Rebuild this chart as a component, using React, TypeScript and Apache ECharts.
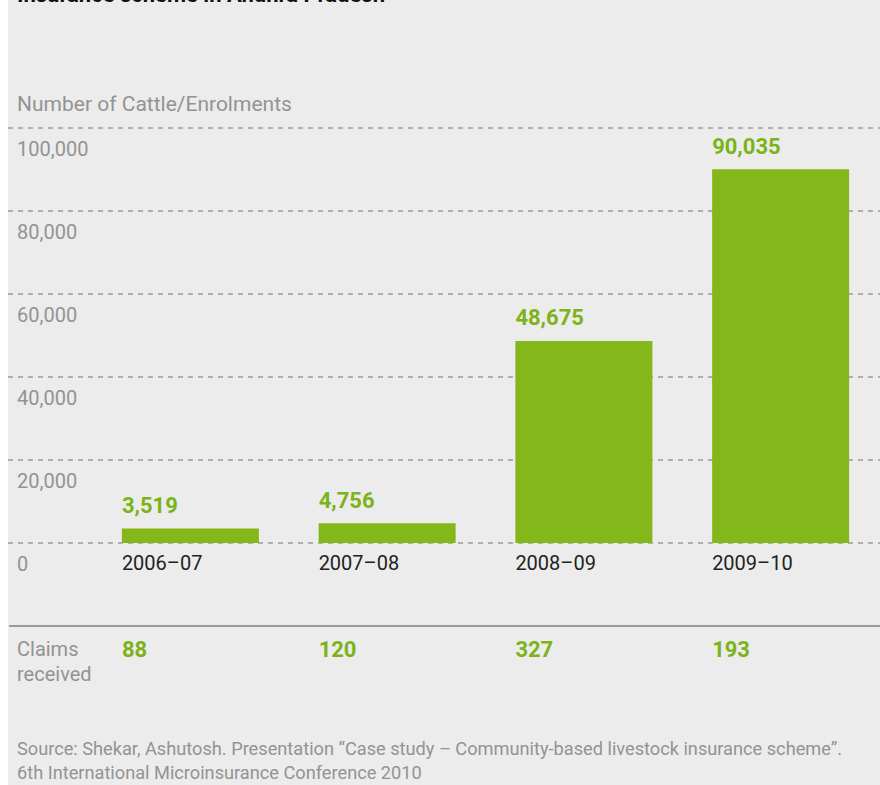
import React, { useEffect, useRef } from "react";
import * as echarts from "echarts";

const categories = ["2006–07", "2007–08", "2008–09", "2009–10"];
const enrolments = [3519, 4756, 48675, 90035];
const claims = [88, 120, 327, 193];
const yTicks = [0, 20000, 40000, 60000, 80000, 100000];

const FONT = "Roboto";
const GREEN = "#84b71a";
const LABEL_GREEN = "#7cb319";
const GREY = "#939393";

export default function App() {
  const ref = useRef<HTMLDivElement>(null);
  useEffect(() => {
    if (!ref.current) return;
    const chart = echarts.init(ref.current, null, { renderer: "svg" });
    const yMax = yTicks[yTicks.length - 1];
    const interval = yTicks[1] - yTicks[0];
    chart.setOption({
      animation: false,
      backgroundColor: "#ececec",
      textStyle: { fontFamily: FONT },
      grid: [
        { left: 0, right: 0, top: 128, height: 415 },
        { left: 84, right: 1, top: 128, height: 415 },
      ],
      xAxis: [
        { gridIndex: 0, type: "category", data: [""], show: false },
        {
          gridIndex: 1,
          type: "category",
          data: categories,
          axisLine: { show: false },
          axisTick: { show: false },
          axisLabel: {
            margin: 10,
            align: "center",
            formatter: (v: string) => `{t|${v}}`,
            rich: {
              t: {
                width: 137,
                align: "left",
                fontSize: 20,
                color: "#222222",
                fontFamily: FONT,
              },
            },
          },
        },
        {
          gridIndex: 1,
          type: "category",
          data: categories,
          position: "bottom",
          offset: 87,
          axisLine: { show: false },
          axisTick: { show: false },
          axisLabel: {
            margin: 8,
            align: "center",
            formatter: (_v: string, i: number) => `{t|${claims[i]}}`,
            rich: {
              t: {
                width: 137,
                align: "left",
                fontSize: 22,
                fontWeight: "bold",
                color: LABEL_GREEN,
                fontFamily: FONT,
              },
            },
          },
        },
      ],
      yAxis: [
        {
          gridIndex: 0,
          type: "value",
          min: 0,
          max: yMax,
          interval,
          axisLine: { show: false },
          axisTick: { show: false },
          splitLine: {
            show: true,
            lineStyle: { color: "#9a9a9a", width: 1.5, type: [5, 5] },
          },
          axisLabel: {
            inside: true,
            margin: 9,
            verticalAlign: "top",
            padding: [11, 0, 0, 0],
            fontSize: 20,
            color: GREY,
            fontFamily: FONT,
            formatter: (v: number) => v.toLocaleString("en-US"),
          },
        },
        {
          gridIndex: 1,
          type: "value",
          min: 0,
          max: yMax,
          interval,
          show: false,
          splitLine: { show: false },
        },
      ],
      series: [
        {
          type: "bar",
          name: "Number of Cattle/Enrolments",
          xAxisIndex: 1,
          yAxisIndex: 1,
          data: enrolments,
          barWidth: 137,
          itemStyle: { color: GREEN },
          label: {
            show: true,
            position: [0, 0],
            align: "left",
            verticalAlign: "bottom",
            offset: [0, -12],
            fontSize: 22,
            fontWeight: "bold",
            color: LABEL_GREEN,
            fontFamily: FONT,
            formatter: (p: any) => Number(p.value).toLocaleString("en-US"),
          },
        },
      ],
      graphic: [
        {
          type: "text",
          left: 9,
          top: -17,
          style: {
            text: "Insurance scheme in Andhra Pradesh",
            fontSize: 22,
            fontWeight: "bold",
            fill: "#111111",
            fontFamily: FONT,
          },
        },
        {
          type: "text",
          left: 9,
          top: 93,
          style: {
            text: "Number of Cattle/Enrolments",
            fontSize: 21,
            fill: GREY,
            fontFamily: FONT,
          },
        },
        {
          type: "line",
          shape: { x1: 1, y1: 626, x2: 872, y2: 626 },
          style: { stroke: "#9a9a9a", lineWidth: 2 },
        },
        {
          type: "text",
          left: 9,
          top: 636,
          style: {
            text: "Claims\nreceived",
            fontSize: 20,
            lineHeight: 25,
            fill: GREY,
            fontFamily: FONT,
          },
        },
        {
          type: "text",
          left: 9,
          top: 736,
          style: {
            text:
              "Source: Shekar, Ashutosh. Presentation \u201CCase study \u2013 Community-based livestock insurance scheme\u201D.\n6th International Microinsurance Conference 2010",
            fontSize: 18.2,
            lineHeight: 24,
            fill: GREY,
            fontFamily: FONT,
          },
        },
      ],
    });
    return () => chart.dispose();
  }, []);
  return (
    <div
      ref={ref}
      style={{ position: "absolute", left: 8, top: 0, width: 872, height: 785 }}
    />
  );
}
